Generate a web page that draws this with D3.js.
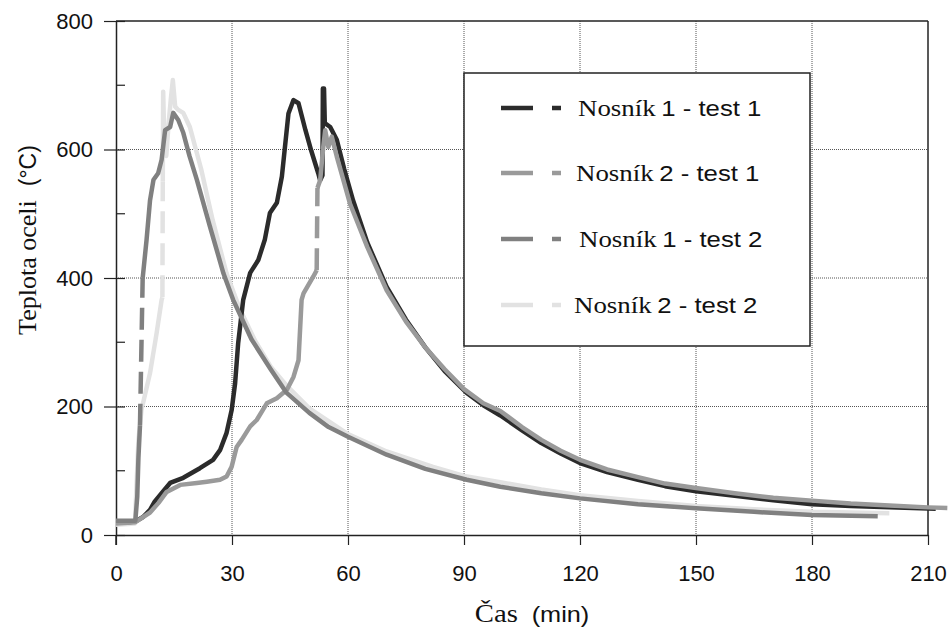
<!DOCTYPE html>
<html>
<head>
<meta charset="utf-8">
<script src="https://cdn.jsdelivr.net/npm/d3@7"></script>
<style>
  body { margin: 0; background: #fff; }
  .sans { font-family: "Liberation Sans", Arial, sans-serif; }
  .serif { font-family: "Liberation Serif", "Times New Roman", serif; }
</style>
</head>
<body>
<div id="chart"></div>
<script>
// Each series is a list of measured segments; segments are joined by dashed jumps
const nosnik1Test1 = [
  [[0, 20], [3, 20], [5, 21], [7, 28], [8.8, 39], [10, 52], [11.8, 65], [14, 81], [17.4, 89],
   [21.7, 104], [25.1, 117], [26.9, 132], [28.6, 159], [29.9, 194], [30.8, 236], [31.6, 299],
   [32.9, 366], [34.7, 408], [36.8, 428], [38.5, 460], [39.8, 501], [41.6, 517], [42.9, 558],
   [44.6, 656], [45.9, 677], [47.2, 672], [49, 630], [50.5, 598], [52.3, 563], [52.8, 552],
   [53.4, 560], [53.5, 695], [53.8, 695], [54.0, 641], [55.4, 635], [57.1, 615], [59, 570],
   [61.3, 521], [65, 455], [70, 386], [75, 335], [80, 292], [85, 255], [90.7, 221], [95, 202],
   [99.4, 186], [105, 163], [110, 143], [115, 127], [120, 112], [127, 98], [135, 86], [142, 76],
   [150, 68], [160, 61], [170, 54], [180, 48], [190, 45], [200, 43], [212, 41]]
];

const nosnik2Test1 = [
  [[0, 18], [5, 20], [7, 28], [8.8, 35], [11, 50], [13.1, 67], [16.6, 78], [20.9, 81], [23.5, 83],
   [26.9, 86], [28.6, 91], [29.9, 106], [31.2, 137], [32.5, 148], [34.7, 169], [36.4, 179],
   [39, 205], [41.6, 213], [44.2, 226], [45.9, 246], [47.2, 272], [48, 366], [48.5, 376],
   [51, 402], [51.9, 412]],
  [[52.1, 540], [52.8, 552], [53.6, 604], [54.1, 630], [54.9, 604], [55.8, 620], [57.1, 589],
   [60.5, 516], [65, 448], [70, 381], [75, 332], [80, 292], [85, 258], [90, 227], [95, 205],
   [99.4, 193], [105, 168], [110, 148], [115, 131], [120, 117], [127, 102], [135, 90], [142, 80],
   [150, 73], [160, 65], [170, 58], [180, 53.5], [190, 49], [200, 46], [210, 43], [215, 42]]
];

const nosnik1Test2 = [
  [[0, 22], [3, 22], [5, 22], [5.5, 60], [5.8, 120], [6.2, 170]],
  [[6.9, 400], [7.9, 459], [8.8, 521], [9.7, 553], [10.9, 563], [11.8, 584], [12.7, 630],
   [14, 635], [14.8, 657], [16.1, 646], [17.4, 626], [19, 590], [20.9, 553], [24.3, 480],
   [27.8, 407], [30.3, 366], [35, 305], [40, 258], [44, 222], [50, 190], [55, 168], [60, 153],
   [70, 125], [80, 103], [90.7, 86], [99.4, 75], [110, 65], [120, 57], [135, 48], [150, 41.5],
   [165, 36], [180, 31], [197, 29]]
];

const nosnik2Test2 = [
  [[0, 16], [3, 17], [4.9, 18], [5.3, 75], [5.8, 148], [6.6, 195], [8.8, 252], [10.5, 314],
   [11.8, 366], [12.0, 370]],
  [[12.1, 550], [12.2, 690], [12.5, 610], [13.0, 590], [13.6, 640], [14.2, 680], [14.7, 708],
   [15.3, 667], [16, 662], [17.4, 657], [19.1, 635], [22, 570], [25, 490], [28.6, 407],
   [32, 352], [36, 302], [40, 262], [44.2, 232], [50, 197], [59.7, 158], [70, 130], [82, 106],
   [90, 92], [99.4, 82], [110, 71], [120, 62], [135, 53], [150, 45], [165, 40], [180, 36],
   [200, 34]]
];

const seriesNames = ["Nosník 1 - test 1", "Nosník 2 - test 1", "Nosník 1 - test 2", "Nosník 2 - test 2"];
const seriesColors = ["#2b2b2b", "#9a9a9a", "#808080", "#e2e2e2"];
const xTicks = [0, 30, 60, 90, 120, 150, 180, 210];
const yTicks = [0, 200, 400, 600, 800];
const yMinorTicks = [100, 300, 500, 700];

const allSeries = [nosnik1Test1, nosnik2Test1, nosnik1Test2, nosnik2Test2];
const drawOrder = [3, 0, 1, 2];

const W = 948, H = 628;
const margin = { top: 21, right: 20, bottom: 93, left: 116 };
const width = 812;
const height = 514;

const svg = d3.select("#chart")
  .append("svg")
  .attr("width", W)
  .attr("height", H);

const g = svg.append("g")
  .attr("transform", `translate(${margin.left},${margin.top})`);

const x = d3.scaleLinear().domain([0, 210]).range([0, width]);
const y = d3.scaleLinear().domain([0, 800]).range([height, 0]);

// Grid (dotted)
g.append("g")
  .selectAll("line")
  .data(xTicks.slice(1, -1))
  .join("line")
  .attr("x1", d => x(d)).attr("x2", d => x(d))
  .attr("y1", 0).attr("y2", height)
  .attr("stroke", "#555")
  .attr("stroke-width", 1)
  .attr("stroke-dasharray", "1,1");

g.append("g")
  .selectAll("line")
  .data(yTicks.slice(1, -1))
  .join("line")
  .attr("x1", 0).attr("x2", width)
  .attr("y1", d => y(d)).attr("y2", d => y(d))
  .attr("stroke", "#555")
  .attr("stroke-width", 1)
  .attr("stroke-dasharray", "1,1");

// Frame: top and right
g.append("line")
  .attr("x1", 0).attr("x2", width)
  .attr("y1", 0).attr("y2", 0)
  .attr("stroke", "#222").attr("stroke-width", 1.5);
g.append("line")
  .attr("x1", width).attr("x2", width)
  .attr("y1", 0).attr("y2", height)
  .attr("stroke", "#222").attr("stroke-width", 1.5);

// Axes
const xAxis = g.append("g")
  .attr("transform", `translate(0,${height})`)
  .call(d3.axisBottom(x).tickValues(xTicks).tickSize(10).tickPadding(20).tickSizeOuter(0));

const yAxis = g.append("g")
  .call(d3.axisLeft(y).tickValues(yTicks).tickSize(12).tickPadding(11).tickSizeOuter(0));

[xAxis, yAxis].forEach(ax => {
  ax.select(".domain").attr("stroke", "#222").attr("stroke-width", 1.5);
  ax.selectAll(".tick line").attr("stroke", "#222").attr("stroke-width", 1.2);
  ax.selectAll(".tick text")
    .attr("fill", "#111")
    .style("font-family", '"Liberation Sans", Arial, sans-serif')
    .style("font-size", "22px");
});

// major y ticks also poke inside
yAxis.selectAll(".tick").append("line")
  .attr("x1", 0).attr("x2", 9)
  .attr("stroke", "#222").attr("stroke-width", 1.2);

// minor y ticks (inside)
g.append("g")
  .selectAll("line")
  .data(yMinorTicks)
  .join("line")
  .attr("x1", 0).attr("x2", 9)
  .attr("y1", d => y(d)).attr("y2", d => y(d))
  .attr("stroke", "#222").attr("stroke-width", 1.2);

// extend left axis a little below 0
g.append("line")
  .attr("x1", 0).attr("x2", 0)
  .attr("y1", height).attr("y2", height + 10)
  .attr("stroke", "#222").attr("stroke-width", 1.5);

// Series
const line = d3.line()
  .x(d => x(d[0]))
  .y(d => y(d[1]));

drawOrder.forEach(i => {
  const segs = allSeries[i];
  const sg = g.append("g");
  // dashed jumps between measured segments
  for (let k = 1; k < segs.length; k++) {
    const a = segs[k - 1][segs[k - 1].length - 1];
    const b = segs[k][0];
    sg.append("path")
      .datum([a, b])
      .attr("d", line)
      .attr("fill", "none")
      .attr("stroke", seriesColors[i])
      .attr("stroke-width", 4.5)
      .attr("stroke-dasharray", "22,10");
  }
  sg.selectAll("path.seg")
    .data(segs)
    .join("path")
    .attr("class", "seg")
    .attr("d", line)
    .attr("fill", "none")
    .attr("stroke", seriesColors[i])
    .attr("stroke-width", 4.5)
    .attr("stroke-linejoin", "round");
});

// Legend
const legend = svg.append("g").attr("transform", "translate(464,73)");
legend.append("rect")
  .attr("width", 346).attr("height", 273)
  .attr("fill", "#fff")
  .attr("stroke", "#222").attr("stroke-width", 1.5);

const rowY = [35, 100, 166, 232];
const textX = [114, 112, 115, 110];
seriesNames.forEach((name, i) => {
  const row = legend.append("g").attr("transform", `translate(0,${rowY[i]})`);
  row.append("line")
    .attr("x1", 37).attr("x2", 69)
    .attr("stroke", seriesColors[i]).attr("stroke-width", 4.5);
  row.append("line")
    .attr("x1", 88).attr("x2", 97)
    .attr("stroke", seriesColors[i]).attr("stroke-width", 4.5);
  const parts = name.split(" ");
  const t = row.append("text")
    .attr("transform", `translate(${textX[i]},8) scale(1.12,1)`)
    .attr("fill", "#111");
  t.append("tspan")
    .attr("class", "serif")
    .style("font-size", "24px")
    .text(parts[0]);
  t.append("tspan")
    .attr("class", "sans")
    .attr("dx", 5)
    .style("font-size", "23px")
    .text(parts.slice(1).join(" "));
});

// Axis titles
const yTitle = svg.append("text")
  .attr("transform", "translate(36,240) rotate(-90)")
  .attr("text-anchor", "middle")
  .attr("fill", "#111");
yTitle.append("tspan").attr("class", "serif").style("font-size", "26px").text("Teplota oceli");
yTitle.append("tspan").attr("class", "sans").attr("dx", 14).style("font-size", "23px").text("(°C)");

const xTitle = svg.append("text")
  .attr("transform", "translate(532,622) scale(1.15,1)")
  .attr("text-anchor", "middle")
  .attr("fill", "#111");
xTitle.append("tspan").attr("class", "serif").style("font-size", "25px").text("Čas");
xTitle.append("tspan").attr("class", "sans").attr("dx", 12).style("font-size", "22px").text("(min)");
</script>
</body>
</html>
